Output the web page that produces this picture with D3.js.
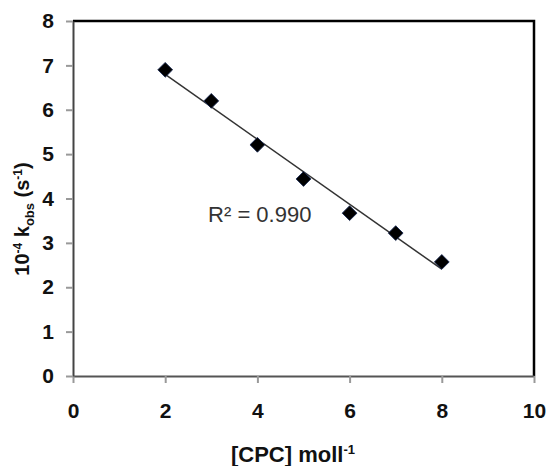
<!DOCTYPE html>
<html>
<head>
<meta charset="utf-8">
<script src="https://cdn.jsdelivr.net/npm/d3@7"></script>
<style>
  body { margin: 0; background: #fff; }
  svg text { font-family: "Liberation Sans", Arial, sans-serif; }
</style>
</head>
<body>
<div id="chart"></div>
<script>
// Data
const cpc = [2, 3, 4, 5, 6, 7, 8];
const kobs = [6.90, 6.20, 5.21, 4.44, 3.67, 3.22, 2.57];
const xTicks = [0, 2, 4, 6, 8, 10];
const yTicks = [0, 1, 2, 3, 4, 5, 6, 7, 8];

const width = 550;
const height = 466;
const margin = { top: 21, right: 16, bottom: 90, left: 73 };

const svg = d3.select("#chart")
    .append("svg")
    .attr("width", width)
    .attr("height", height);

const x = d3.scaleLinear()
    .domain([0, 10])
    .range([margin.left, width - margin.right]);

const y = d3.scaleLinear()
    .domain([0, 8])
    .range([height - margin.bottom, margin.top]);

// Top and right frame (black)
svg.append("path")
    .attr("d", `M${x(0)},${y(8)}H${x(10)}V${y(0)}`)
    .attr("fill", "none")
    .attr("stroke", "#000")
    .attr("stroke-width", 2.5);

// Bottom axis
const xAxis = svg.append("g")
    .attr("transform", `translate(0, ${y(0)})`)
    .call(d3.axisBottom(x).tickValues(xTicks).tickSize(7).tickSizeOuter(0).tickPadding(20));
xAxis.select(".domain").attr("stroke", "#555").attr("stroke-width", 2);
xAxis.selectAll(".tick line").attr("stroke", "#999").attr("stroke-width", 2);
xAxis.selectAll(".tick text")
    .attr("font-size", 21)
    .attr("font-weight", "bold")
    .attr("fill", "#111");

// Left axis
const yAxis = svg.append("g")
    .attr("transform", `translate(${x(0)}, 0)`)
    .call(d3.axisLeft(y).tickValues(yTicks).tickSize(7).tickSizeOuter(0).tickPadding(12));
yAxis.select(".domain").attr("stroke", "#444").attr("stroke-width", 2);
yAxis.selectAll(".tick line").attr("stroke", "#999").attr("stroke-width", 2);
yAxis.selectAll(".tick text")
    .attr("font-size", 21)
    .attr("font-weight", "bold")
    .attr("fill", "#111");

// Least squares trendline
const mx = d3.mean(cpc);
const my = d3.mean(kobs);
const slope = d3.sum(cpc, (v, i) => (v - mx) * (kobs[i] - my)) / d3.sum(cpc, v => (v - mx) ** 2);
const intercept = my - slope * mx;
const x0 = d3.min(cpc), x1 = d3.max(cpc);

svg.append("line")
    .attr("x1", x(x0))
    .attr("y1", y(intercept + slope * x0))
    .attr("x2", x(x1))
    .attr("y2", y(intercept + slope * x1))
    .attr("stroke", "#333")
    .attr("stroke-width", 1.5);

// Diamond markers
svg.selectAll("path.pt")
    .data(cpc)
    .enter()
    .append("path")
    .attr("class", "pt")
    .attr("d", d3.symbol(d3.symbolSquare, 110))
    .attr("transform", (d, i) => `translate(${x(d)}, ${y(kobs[i])}) rotate(45)`)
    .attr("fill", "#000")
    .attr("stroke", "#1a2a55")
    .attr("stroke-width", 0.8);

// R squared note
svg.append("text")
    .attr("x", x(2.93))
    .attr("y", y(3.47))
    .attr("font-size", 22)
    .attr("fill", "#333")
    .text("R² = 0.990");

// X axis label
const xl = svg.append("text")
    .attr("x", 293)
    .attr("y", 462)
    .attr("text-anchor", "middle")
    .attr("font-size", 22)
    .attr("font-weight", "bold")
    .attr("fill", "#111");
xl.append("tspan").text("[CPC] moll");
xl.append("tspan").attr("dy", -8).attr("font-size", 13).text("-1");

// Y axis label
const yl = svg.append("text")
    .attr("transform", "translate(29, 219) rotate(-90)")
    .attr("text-anchor", "middle")
    .attr("font-size", 20)
    .attr("font-weight", "bold")
    .attr("fill", "#111");
yl.append("tspan").text("10");
yl.append("tspan").attr("dy", -7).attr("font-size", 12).text("-4");
yl.append("tspan").attr("dy", 7).text(" k");
yl.append("tspan").attr("dy", 5).attr("font-size", 13).text("obs");
yl.append("tspan").attr("dy", -5).text(" (s");
yl.append("tspan").attr("dy", -7).attr("font-size", 12).text("-1");
yl.append("tspan").attr("dy", 7).text(")");
</script>
</body>
</html>
